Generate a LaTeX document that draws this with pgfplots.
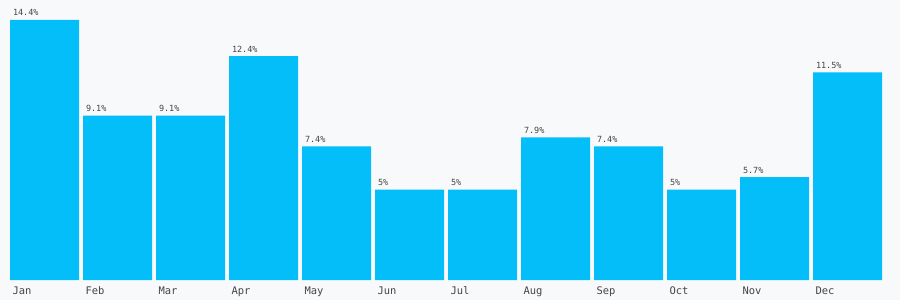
\documentclass[border=0pt]{standalone}
\usepackage{pgfplots}
\pgfplotsset{compat=1.18}
\usepackage{fontspec}
\setmainfont{DejaVu Sans Mono}
\definecolor{bg}{HTML}{F8F9FB}
\definecolor{bar}{HTML}{04BEFA}
\definecolor{txt}{HTML}{444444}
\begin{document}
\begin{tikzpicture}[x=1bp,y=1bp]
\fill[bg] (0,-20) rectangle (900,280);
\begin{axis}[
  at={(0,0)}, anchor=south west,
  scale only axis, width=900bp, height=260bp,
  xmin=-0.60959, xmax=11.71918,
  ymin=0, ymax=14.4,
  axis line style={draw=none},
  ytick=\empty,
  xtick={0,...,11},
  xticklabels={Jan,Feb,Mar,Apr,May,Jun,Jul,Aug,Sep,Oct,Nov,Dec},
  major tick length=0pt,
  xticklabel style={anchor=base west, xshift=-35.5bp, yshift=-14bp, font=\fontsize{10.5}{12}\selectfont, text=txt},
  clip=false,
]
\addplot[ybar, bar width=69bp, fill=bar, draw=none,
  nodes near coords={\pgfmathprintnumber{\pgfplotspointmeta}\%},
  nodes near coords style={anchor=base west, xshift=-35bp, yshift=4bp, font=\fontsize{8.5}{10}\selectfont, text=txt, /pgf/number format/assume math mode=true, /pgf/number format/precision=1}
] coordinates {
(0,14.4) (1,9.1) (2,9.1) (3,12.4) (4,7.4) (5,5) (6,5) (7,7.9) (8,7.4) (9,5) (10,5.7) (11,11.5)
};
\end{axis}
\end{tikzpicture}
\end{document}
